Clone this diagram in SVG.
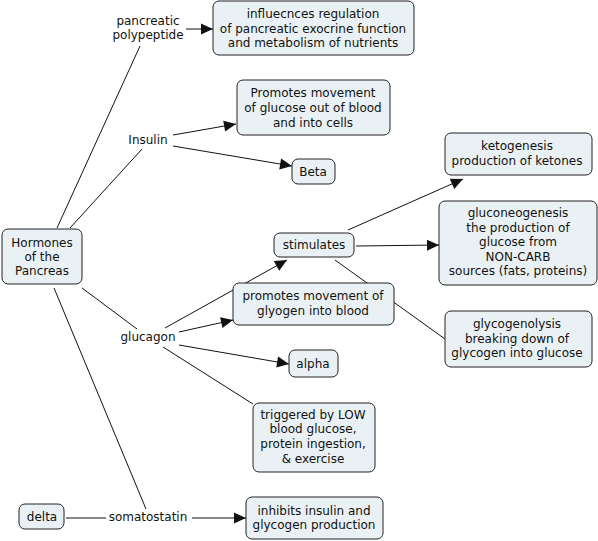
<svg xmlns="http://www.w3.org/2000/svg" width="598" height="541" viewBox="0 0 598 541">
<style>
.n rect{fill:#EAF1F4;stroke:#222;stroke-width:1}
text{font-family:"DejaVu Sans","Verdana",sans-serif;font-size:12px;fill:#111;text-anchor:middle}
.c line{stroke:#111;stroke-width:1;fill:none}
.c line.a{marker-end:url(#ah)}
</style>
<defs>
<marker id="ah" markerUnits="userSpaceOnUse" markerWidth="14" markerHeight="12" viewBox="0 -6 13 12" refX="12" refY="0" orient="auto">
<path d="M0,-5.5 L12,0 L0,5.5 z" fill="#111"/>
</marker>
</defs>
<rect width="598" height="541" fill="#fff"/>
<g class="c">
<line x1="57" y1="228" x2="140" y2="46"/>
<line class="a" x1="186" y1="29" x2="213" y2="29"/>
<line x1="70" y1="228" x2="142" y2="149"/>
<line class="a" x1="173" y1="135" x2="236" y2="124"/>
<line class="a" x1="173" y1="146" x2="292" y2="166"/>
<line x1="82" y1="288" x2="137" y2="329"/>
<line class="a" x1="165" y1="328" x2="287" y2="260"/>
<line class="a" x1="179" y1="332" x2="233" y2="320"/>
<line class="a" x1="179" y1="345" x2="289" y2="364"/>
<line x1="163" y1="347" x2="253" y2="404"/>
<line class="a" x1="356" y1="246" x2="439" y2="245"/>
<line class="a" x1="348" y1="230" x2="463" y2="179"/>
<line x1="335" y1="260" x2="445" y2="339"/>
<line x1="54" y1="288" x2="146" y2="509"/>
<line x1="66" y1="518" x2="106" y2="518"/>
<line class="a" x1="192" y1="518" x2="246" y2="518"/>
</g>
<g id="hormones" class="n"><rect x="2" y="229" width="80" height="55" rx="6"/><text x="42" y="247">Hormones</text><text x="42" y="261">of the</text><text x="42" y="275">Pancreas</text></g>
<g id="pp-label"><text x="148" y="25">pancreatic</text><text x="148" y="39">polypeptide</text></g>
<g id="pp-effect" class="n"><rect x="213" y="1" width="201" height="54" rx="6"/><text x="313" y="18">influecnces regulation</text><text x="313" y="33">of pancreatic exocrine function</text><text x="313" y="47">and metabolism of nutrients</text></g>
<g id="insulin"><text x="148" y="144">Insulin</text></g>
<g id="insulin-effect" class="n"><rect x="237" y="80" width="153" height="55" rx="6"/><text x="313" y="97">Promotes movement</text><text x="313" y="112">of glucose out of blood</text><text x="313" y="127">and into cells</text></g>
<g id="beta" class="n"><rect x="292" y="159" width="43" height="25" rx="6"/><text x="313" y="176">Beta</text></g>
<g id="ketogenesis" class="n"><rect x="445" y="133" width="147" height="42" rx="6"/><text x="517" y="150">ketogenesis</text><text x="517" y="165">production of ketones</text></g>
<g id="gluconeogenesis" class="n"><rect x="439" y="201" width="158" height="84" rx="6"/><text x="518" y="217">gluconeogenesis</text><text x="518" y="232">the production of</text><text x="518" y="246">glucose from</text><text x="518" y="261">NON-CARB</text><text x="518" y="275">sources (fats, proteins)</text></g>
<g id="stimulates" class="n"><rect x="274" y="233" width="80" height="24" rx="6"/><text x="314" y="249">stimulates</text></g>
<g id="promotes" class="n"><rect x="233" y="283" width="161" height="42" rx="6"/><text x="313" y="300">promotes movement of</text><text x="313" y="315">glyogen into blood</text></g>
<g id="glycogenolysis" class="n"><rect x="445" y="311" width="147" height="56" rx="6"/><text x="517" y="328">glycogenolysis</text><text x="517" y="343">breaking down of</text><text x="517" y="357">glycogen into glucose</text></g>
<g id="glucagon"><text x="148" y="341">glucagon</text></g>
<g id="alpha" class="n"><rect x="289" y="350" width="49" height="27" rx="6"/><text x="313" y="368">alpha</text></g>
<g id="triggered" class="n"><rect x="253" y="403" width="122" height="69" rx="6"/><text x="313" y="419">triggered by LOW</text><text x="313" y="433">blood glucose,</text><text x="313" y="448">protein ingestion,</text><text x="313" y="463">&amp; exercise</text></g>
<g id="delta" class="n"><rect x="19" y="504" width="45" height="25" rx="6"/><text x="42" y="521">delta</text></g>
<g id="somatostatin"><text x="148" y="521">somatostatin</text></g>
<g id="inhibits" class="n"><rect x="246" y="497" width="137" height="42" rx="6"/><text x="314" y="515">inhibits insulin and</text><text x="314" y="529">glycogen production</text></g>
</svg>
